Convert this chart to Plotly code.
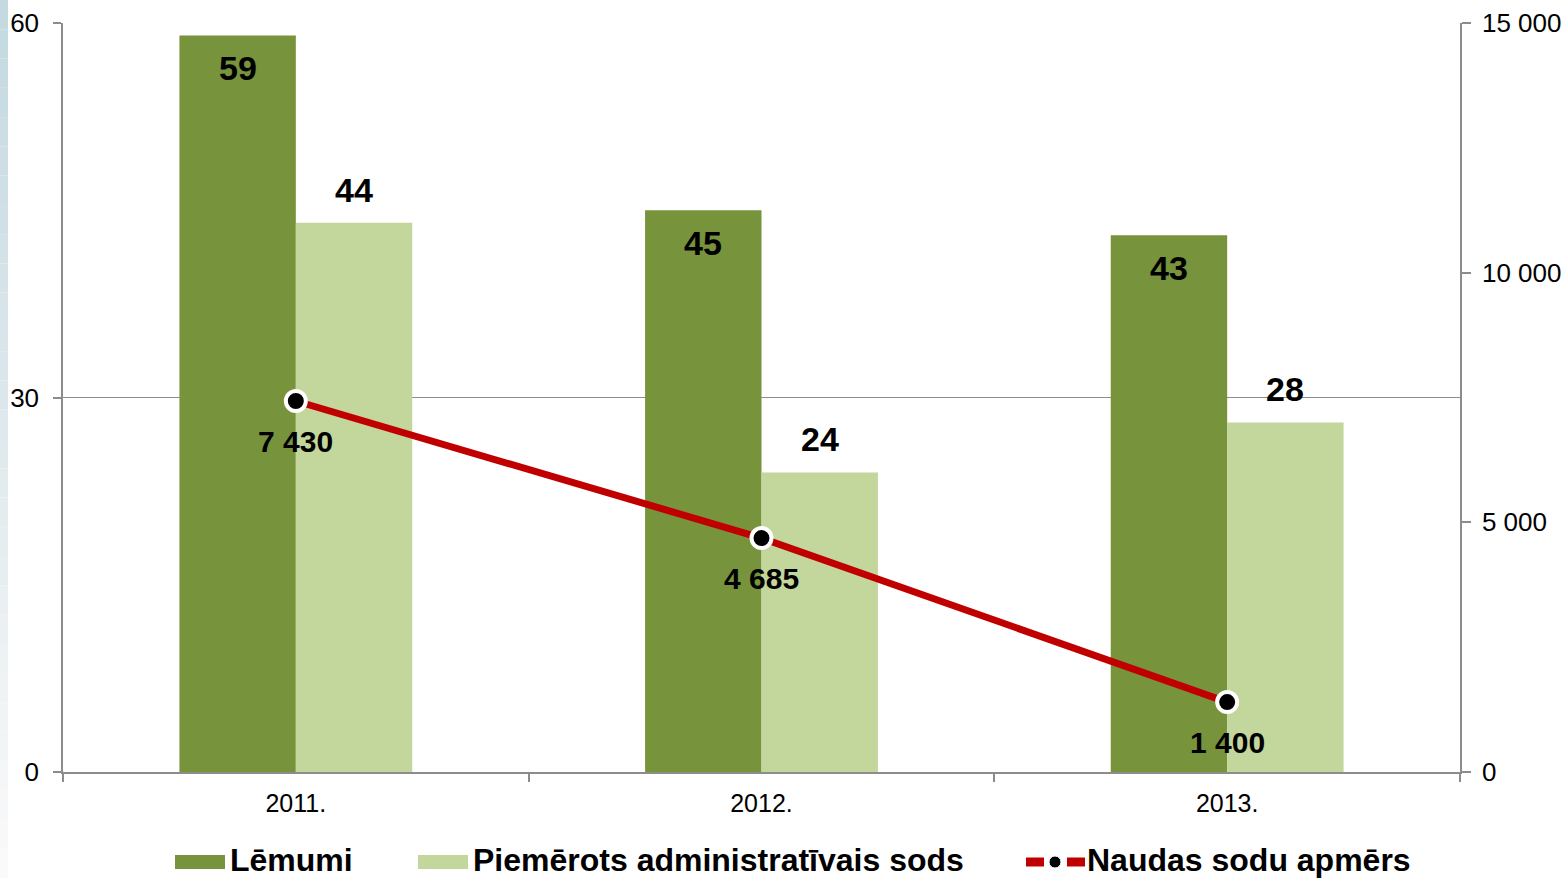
import plotly.graph_objects as go

# ---- data ----
years = ["2011.", "2012.", "2013."]
lemumi = [59, 45, 43]
piemerots = [44, 24, 28]
naudas = [7430, 4685, 1400]
left_ticks = [0, 30, 60]
right_ticks = [0, 5000, 10000, 15000]

names = ["Lēmumi", "Piemērots administratīvais sods", "Naudas sodu apmērs"]

# ---- style / layout ----
W, H = 1568, 878
ML, MR, MT, MB = 63, 108, 23, 106
PW = W - ML - MR
PH = H - MT - MB
DARK = "#77933C"
LIGHT = "#C3D69B"
RED = "#C00000"
AX = "#8C8C8C"
FONT = "Liberation Sans, Arial, sans-serif"
BARGAP = 0.5
cat_w = PW / len(years)
bar_off = cat_w * (1 - BARGAP) / 4


def fmt(v):
    return f"{v:,}".replace(",", " ")


def px_x(px):
    return (px - ML) / PW


def px_y(py):
    return (H - MB - py) / PH


fig = go.Figure()
fig.add_trace(go.Bar(x=years, y=lemumi, name=names[0], marker_color=DARK,
                     marker_line_width=0, showlegend=False))
fig.add_trace(go.Bar(x=years, y=piemerots, name=names[1], marker_color=LIGHT,
                     marker_line_width=0, showlegend=False))
fig.add_trace(go.Scatter(x=years, y=naudas, name=names[2], yaxis="y2",
                         mode="lines+markers",
                         line=dict(color=RED, width=7),
                         marker=dict(size=20, color="black",
                                     line=dict(color="white", width=4)),
                         showlegend=False, cliponaxis=False))

annotations = []
# bar labels (category axis: annotation x is the category's serial number)
for i, v in enumerate(lemumi):
    annotations.append(dict(x=i, y=v, xref="x", yref="y", text=str(v),
                            showarrow=False, xshift=-bar_off, yanchor="top",
                            yshift=-12,
                            font=dict(family=FONT, size=34, color="black",
                                      weight="bold")))
for i, v in enumerate(piemerots):
    annotations.append(dict(x=i, y=v, xref="x", yref="y", text=str(v),
                            showarrow=False, xshift=bar_off, yanchor="bottom",
                            yshift=12,
                            font=dict(family=FONT, size=34, color="black",
                                      weight="bold")))
# line labels
for i, v in enumerate(naudas):
    annotations.append(dict(x=i, y=v, xref="x", yref="y2", text=fmt(v),
                            showarrow=False, yanchor="top", yshift=-22,
                            font=dict(family=FONT, size=30, color="black",
                                      weight="bold")))

shapes = []
# left decorative gradient strip
n = 30
top_c = (197, 217, 225)
for i in range(n):
    f = i / (n - 1)
    c = tuple(int(top_c[k] + (250 - top_c[k]) * f) for k in range(3))
    y0 = H * i / n
    y1 = H * (i + 1) / n
    shapes.append(dict(type="rect", xref="paper", yref="paper",
                       x0=px_x(0), x1=px_x(8), y0=px_y(y1), y1=px_y(y0),
                       fillcolor=f"rgb{c}", line=dict(width=0), layer="below"))

# manual legend
leg_y = 862
shapes.append(dict(type="rect", xref="paper", yref="paper",
                   x0=px_x(175), x1=px_x(225), y0=px_y(869), y1=px_y(855),
                   fillcolor=DARK, line=dict(width=0)))
shapes.append(dict(type="rect", xref="paper", yref="paper",
                   x0=px_x(418), x1=px_x(468), y0=px_y(869), y1=px_y(855),
                   fillcolor=LIGHT, line=dict(width=0)))
shapes.append(dict(type="line", xref="paper", yref="paper",
                   x0=px_x(1026), x1=px_x(1044), y0=px_y(leg_y), y1=px_y(leg_y),
                   line=dict(color=RED, width=9)))
shapes.append(dict(type="line", xref="paper", yref="paper",
                   x0=px_x(1067), x1=px_x(1085), y0=px_y(leg_y), y1=px_y(leg_y),
                   line=dict(color=RED, width=9)))
shapes.append(dict(type="circle", xref="paper", yref="paper",
                   x0=px_x(1049), x1=px_x(1061), y0=px_y(868), y1=px_y(856),
                   fillcolor="black", line=dict(color="white", width=1)))
for xpx, txt in [(229, names[0]), (472, names[1]), (1086, names[2])]:
    annotations.append(dict(x=px_x(xpx), y=px_y(879), xref="paper",
                            yref="paper", text=txt, showarrow=False,
                            xanchor="left", yanchor="bottom", borderpad=0,
                            font=dict(family=FONT, size=32, color="black",
                                      weight="bold")))

fig.update_layout(
    width=W, height=H,
    margin=dict(l=ML, r=MR, t=MT, b=MB, pad=0),
    paper_bgcolor="white", plot_bgcolor="white",
    barmode="group", bargap=BARGAP, bargroupgap=0,
    separators=". ",
    font=dict(family=FONT, size=26, color="black"),
    xaxis=dict(type="category", range=[-0.5, len(years) - 0.5],
               automargin=False, showgrid=False, showline=True, linecolor=AX,
               linewidth=1.5, ticks="outside", tickson="boundaries",
               ticklen=8, tickcolor=AX, tickwidth=1.5, tickangle=0,
               tickfont=dict(family=FONT, size=25, color="black"),
               ticklabelstandoff=8),
    yaxis=dict(range=[0, 60], tickvals=left_ticks, automargin=False,
               showgrid=True, gridcolor=AX, gridwidth=1.2, zeroline=False,
               showline=True, linecolor=AX, linewidth=1.5, ticks="outside",
               ticklen=8, tickcolor=AX, tickwidth=1.5, ticklabelstandoff=9,
               tickfont=dict(family=FONT, size=26, color="black")),
    yaxis2=dict(range=[0, 15000], tickvals=right_ticks, overlaying="y",
                side="right", automargin=False, showgrid=False,
                zeroline=False, showline=True, linecolor=AX, linewidth=1.5,
                ticks="outside", ticklen=9, tickcolor=AX, tickwidth=1.5,
                ticklabelstandoff=6, tickformat=",d",
                tickfont=dict(family=FONT, size=26, color="black")),
    annotations=annotations,
    shapes=shapes,
    showlegend=False,
)

fig.write_html(
    "out.html",
    config={"displayModeBar": False},
    post_script="document.body.style.margin='0';"
                "document.body.style.overflow='hidden';",
)
